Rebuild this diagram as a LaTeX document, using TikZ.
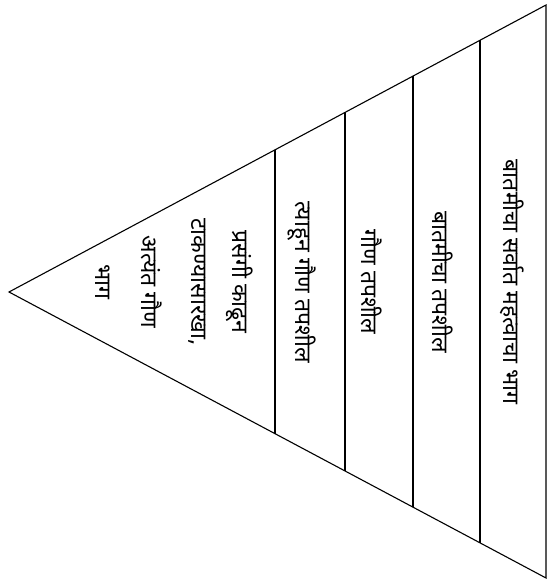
\documentclass[tikz,border=0pt]{standalone}
\usepackage{fontspec}
\newfontfamily\deva[Script=Devanagari]{Noto Sans}
\usetikzlibrary{calc}

\begin{document}
\begin{tikzpicture}[x=1pt, y=1pt, line width=1.1pt,
  layer/.style={rotate=-90, font=\deva\fontsize{23}{26}\selectfont, inner sep=0pt}]
  \useasboundingbox (0,0) rectangle (553,583);
  % outline of the pyramid
  \coordinate (apex) at (9,291);
  \coordinate (top) at (546,578);
  \coordinate (bot) at (546,5);
  \draw (apex) -- (top) -- (bot) -- cycle;
  % dividers
  \foreach \x in {275,345,413,480}
    \draw ($(apex)!{(\x-9)/537}!(top)$) -- ($(apex)!{(\x-9)/537}!(bot)$);
  % layers
  \node[layer] (l1) at (512,301) {बातमीचा सर्वात महत्वाचा भाग};
  \node[layer] (l2) at (443,301) {बातमीचा तपशील};
  \node[layer] (l3) at (372,301) {गौण तपशील};
  \node[layer] (l4) at (302,301) {त्याहून गौण तपशील};
  % tip
  \node[layer] (t1) at (240,301) {प्रसंगी काढून};
  \node[layer] (t2) at (197,301) {टाकण्यासारखा,};
  \node[layer] (t3) at (152,301) {अत्यंत गौण};
  \node[layer] (t4) at (103,301) {भाग};
\end{tikzpicture}
\end{document}
